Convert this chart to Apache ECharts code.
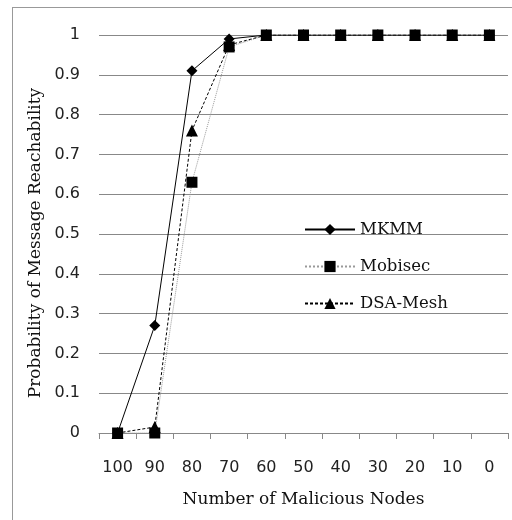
<!DOCTYPE html>
<html>
<head>
<meta charset="utf-8">
<script src="https://cdn.jsdelivr.net/npm/echarts@6/dist/echarts.min.js"></script>
<style>
  html, body { margin: 0; padding: 0; background: #fff; }
  #frame { position: absolute; left: 12px; top: 7px; width: 510px; height: 520px; border: 1px solid #999; box-sizing: border-box; }
  #chart { position: absolute; left: 0; top: 0; width: 512px; height: 520px; }
</style>
</head>
<body>
<div id="frame"></div>
<div id="chart"></div>
<script>
// Number of malicious nodes (x categories)
const nodes = ['100', '90', '80', '70', '60', '50', '40', '30', '20', '10', '0'];
// Probability of message reachability per scheme
const mkmm    = [0, 0.27, 0.91, 0.99, 1, 1, 1, 1, 1, 1, 1];
const mobisec = [0, 0, 0.63, 0.97, 1, 1, 1, 1, 1, 1, 1];
const dsaMesh = [0, 0.015, 0.76, 0.975, 1, 1, 1, 1, 1, 1, 1];

const serif = 'DejaVu Serif';
const chart = echarts.init(document.getElementById('chart'), null, { renderer: 'canvas' });

chart.setOption({
  animation: false,
  grid: { left: 99, right: 4, top: 35, bottom: 87, containLabel: false },
  legend: {
    orient: 'vertical',
    left: 299,
    top: 216,
    itemGap: 20,
    itemWidth: 50,
    itemHeight: 14,
    textStyle: { fontFamily: serif, fontSize: 16.5, color: '#111' },
    data: ['MKMM', 'Mobisec', 'DSA-Mesh']
  },
  xAxis: {
    type: 'category',
    data: nodes,
    boundaryGap: true,
    name: 'Number of Malicious Nodes',
    nameLocation: 'middle',
    nameGap: 58,
    nameTextStyle: { fontFamily: serif, fontSize: 17, color: '#111' },
    axisLine: { lineStyle: { color: '#888', width: 1 } },
    axisTick: { show: true, length: 6, lineStyle: { color: '#888' } },
    axisLabel: { interval: 0, fontFamily: 'DejaVu Sans', fontSize: 16, color: '#222', margin: 27 }
  },
  yAxis: {
    type: 'value',
    min: 0,
    max: 1,
    interval: 0.1,
    name: 'Probability of Message Reachability',
    nameLocation: 'middle',
    nameGap: 52,
    nameTextStyle: { fontFamily: serif, fontSize: 17, color: '#111', padding: [0, 18, 0, 0] },
    axisLine: { show: false },
    axisTick: { show: false },
    axisLabel: {
      fontFamily: 'DejaVu Sans', fontSize: 16, color: '#222', margin: 19,
      formatter: v => String(Math.round(v * 10) / 10)
    },
    splitLine: { lineStyle: { color: '#888', width: 1 } }
  },
  series: [
    {
      name: 'Mobisec', type: 'line', data: mobisec,
      symbol: 'rect', symbolSize: 11,
      itemStyle: { color: '#000' },
      lineStyle: { color: '#999', width: 1, type: 'dotted' }
    },
    {
      name: 'DSA-Mesh', type: 'line', data: dsaMesh,
      symbol: 'triangle', symbolSize: 12,
      itemStyle: { color: '#000' },
      lineStyle: { color: '#000', width: 1, type: [3, 2] }
    },
    {
      name: 'MKMM', type: 'line', data: mkmm,
      symbol: 'diamond', symbolSize: 11,
      itemStyle: { color: '#000' },
      lineStyle: { color: '#000', width: 1, type: 'solid' }
    }
  ]
});
</script>
</body>
</html>
